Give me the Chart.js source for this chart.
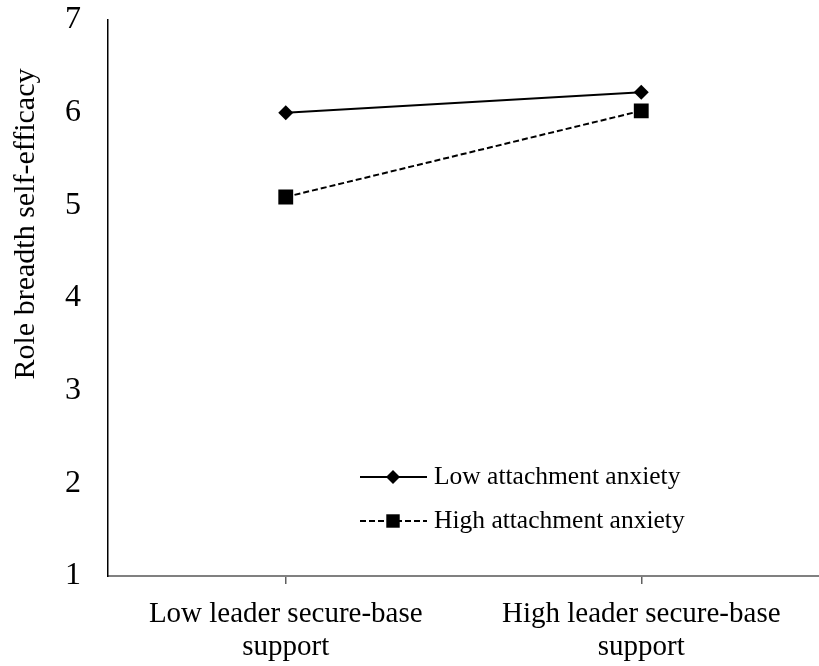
<!DOCTYPE html>
<html>
<head>
<meta charset="utf-8">
<script src="https://cdn.jsdelivr.net/npm/chart.js@4"></script>
<style>
  html, body { margin: 0; padding: 0; background: #fff; }
  #wrap { width: 819px; height: 666px; }
</style>
</head>
<body>
<div id="wrap"><canvas id="moderation"></canvas></div>
<script>
var categories = [["Low leader secure-base", "support"], ["High leader secure-base", "support"]];
var series_names = ["Low attachment anxiety", "High attachment anxiety"];
var low_anxiety = [6.0, 6.22];
var high_anxiety = [5.09, 6.02];
var y_min = 1;
var y_max = 7;
var y_title = "Role breadth self-efficacy";

const serif = "'Liberation Serif', 'Times New Roman', serif";

// y title sits above the middle of the plot, so draw it by hand
const yTitlePlugin = {
    id: 'yTitle',
    afterDraw: function(chart) {
	var ctx = chart.ctx;
	ctx.save();
	ctx.translate(26, 224);
	ctx.rotate(-Math.PI / 2);
	ctx.font = "30px " + serif;
	ctx.fillStyle = "#000";
	ctx.textAlign = "center";
	ctx.textBaseline = "middle";
	ctx.fillText(y_title, 0, 0);
	ctx.restore();
    }
};

// legend drawn inside the plot area, bottom right
const innerLegend = {
    id: 'innerLegend',
    afterDraw: function(chart) {
	var ctx = chart.ctx;
	var rows = [477, 521];
	$each(chart.data.datasets, function(i, ds) {
	    var y = rows[i];
	    ctx.save();
	    ctx.strokeStyle = ds.borderColor;
	    ctx.lineWidth = ds.borderWidth;
	    ctx.setLineDash(ds.borderDash || []);
	    ctx.beginPath();
	    ctx.moveTo(360, y);
	    ctx.lineTo(427, y);
	    ctx.stroke();
	    ctx.setLineDash([]);
	    Chart.helpers.drawPoint(ctx, {
		pointStyle: ds.pointStyle,
		radius: ds.legendRadius,
		borderWidth: 0
	    }, 393, y);
	    ctx.fillStyle = "#000";
	    ctx.font = "25.5px " + serif;
	    ctx.textBaseline = "middle";
	    ctx.textAlign = "left";
	    ctx.fillText(series_names[i], 434, y);
	    ctx.restore();
	});
    }
};

function $each(arr, fn)
{
    for (var i = 0; i < arr.length; i++)
	fn(i, arr[i]);
}

const ctx = document.getElementById("moderation");

new Chart(ctx, {
    type: 'line',
    data: {
	labels: categories,
	datasets: [{
	    label: series_names[0],
	    data: low_anxiety,
	    borderColor: '#000',
	    backgroundColor: '#000',
	    borderWidth: 2,
	    pointStyle: 'rectRot',
	    pointRadius: 7.5,
	    pointHoverRadius: 7.5,
	    pointBorderWidth: 0,
	    legendRadius: 7,
	    tension: 0
	}, {
	    label: series_names[1],
	    data: high_anxiety,
	    borderColor: '#000',
	    backgroundColor: '#000',
	    borderWidth: 2,
	    borderDash: [6, 3],
	    pointStyle: 'rect',
	    pointRadius: 10.5,
	    pointHoverRadius: 10.5,
	    pointBorderWidth: 0,
	    legendRadius: 9.5,
	    tension: 0
	}]
    },
    options: {
	responsive: true,
	maintainAspectRatio: false,
	animation: false,
	layout: {
	    autoPadding: false,
	    padding: { top: 20, right: -9, bottom: 0, left: 0 }
	},
	plugins: {
	    legend: { display: false },
	    tooltip: { enabled: false }
	},
	scales: {
	    x: {
		type: 'category',
		offset: true,
		afterFit: function(scale) {
		    scale.height = 90;
		    scale.paddingLeft = 0;
		    scale.paddingRight = 0;
		},
		border: { display: true, color: '#808080', width: 2 },
		grid: {
		    drawOnChartArea: false,
		    drawTicks: true,
		    tickLength: 8,
		    color: '#606060',
		    lineWidth: 1.5
		},
		ticks: {
		    color: '#000',
		    padding: 14,
		    font: { family: serif, size: 29, lineHeight: 1.14 },
		    maxRotation: 0,
		    autoSkip: false
		}
	    },
	    y: {
		type: 'linear',
		min: y_min,
		max: y_max,
		afterFit: function(scale) {
		    scale.width = 108;
		    scale.paddingTop = 0;
		    scale.paddingBottom = 0;
		},
		border: { display: true, color: '#000', width: 1.5 },
		grid: { display: false, drawTicks: false },
		ticks: {
		    stepSize: 1,
		    color: '#000',
		    padding: 27,
		    font: { family: serif, size: 32 }
		}
	    }
	}
    },
    plugins: [yTitlePlugin, innerLegend]
});
</script>
</body>
</html>
